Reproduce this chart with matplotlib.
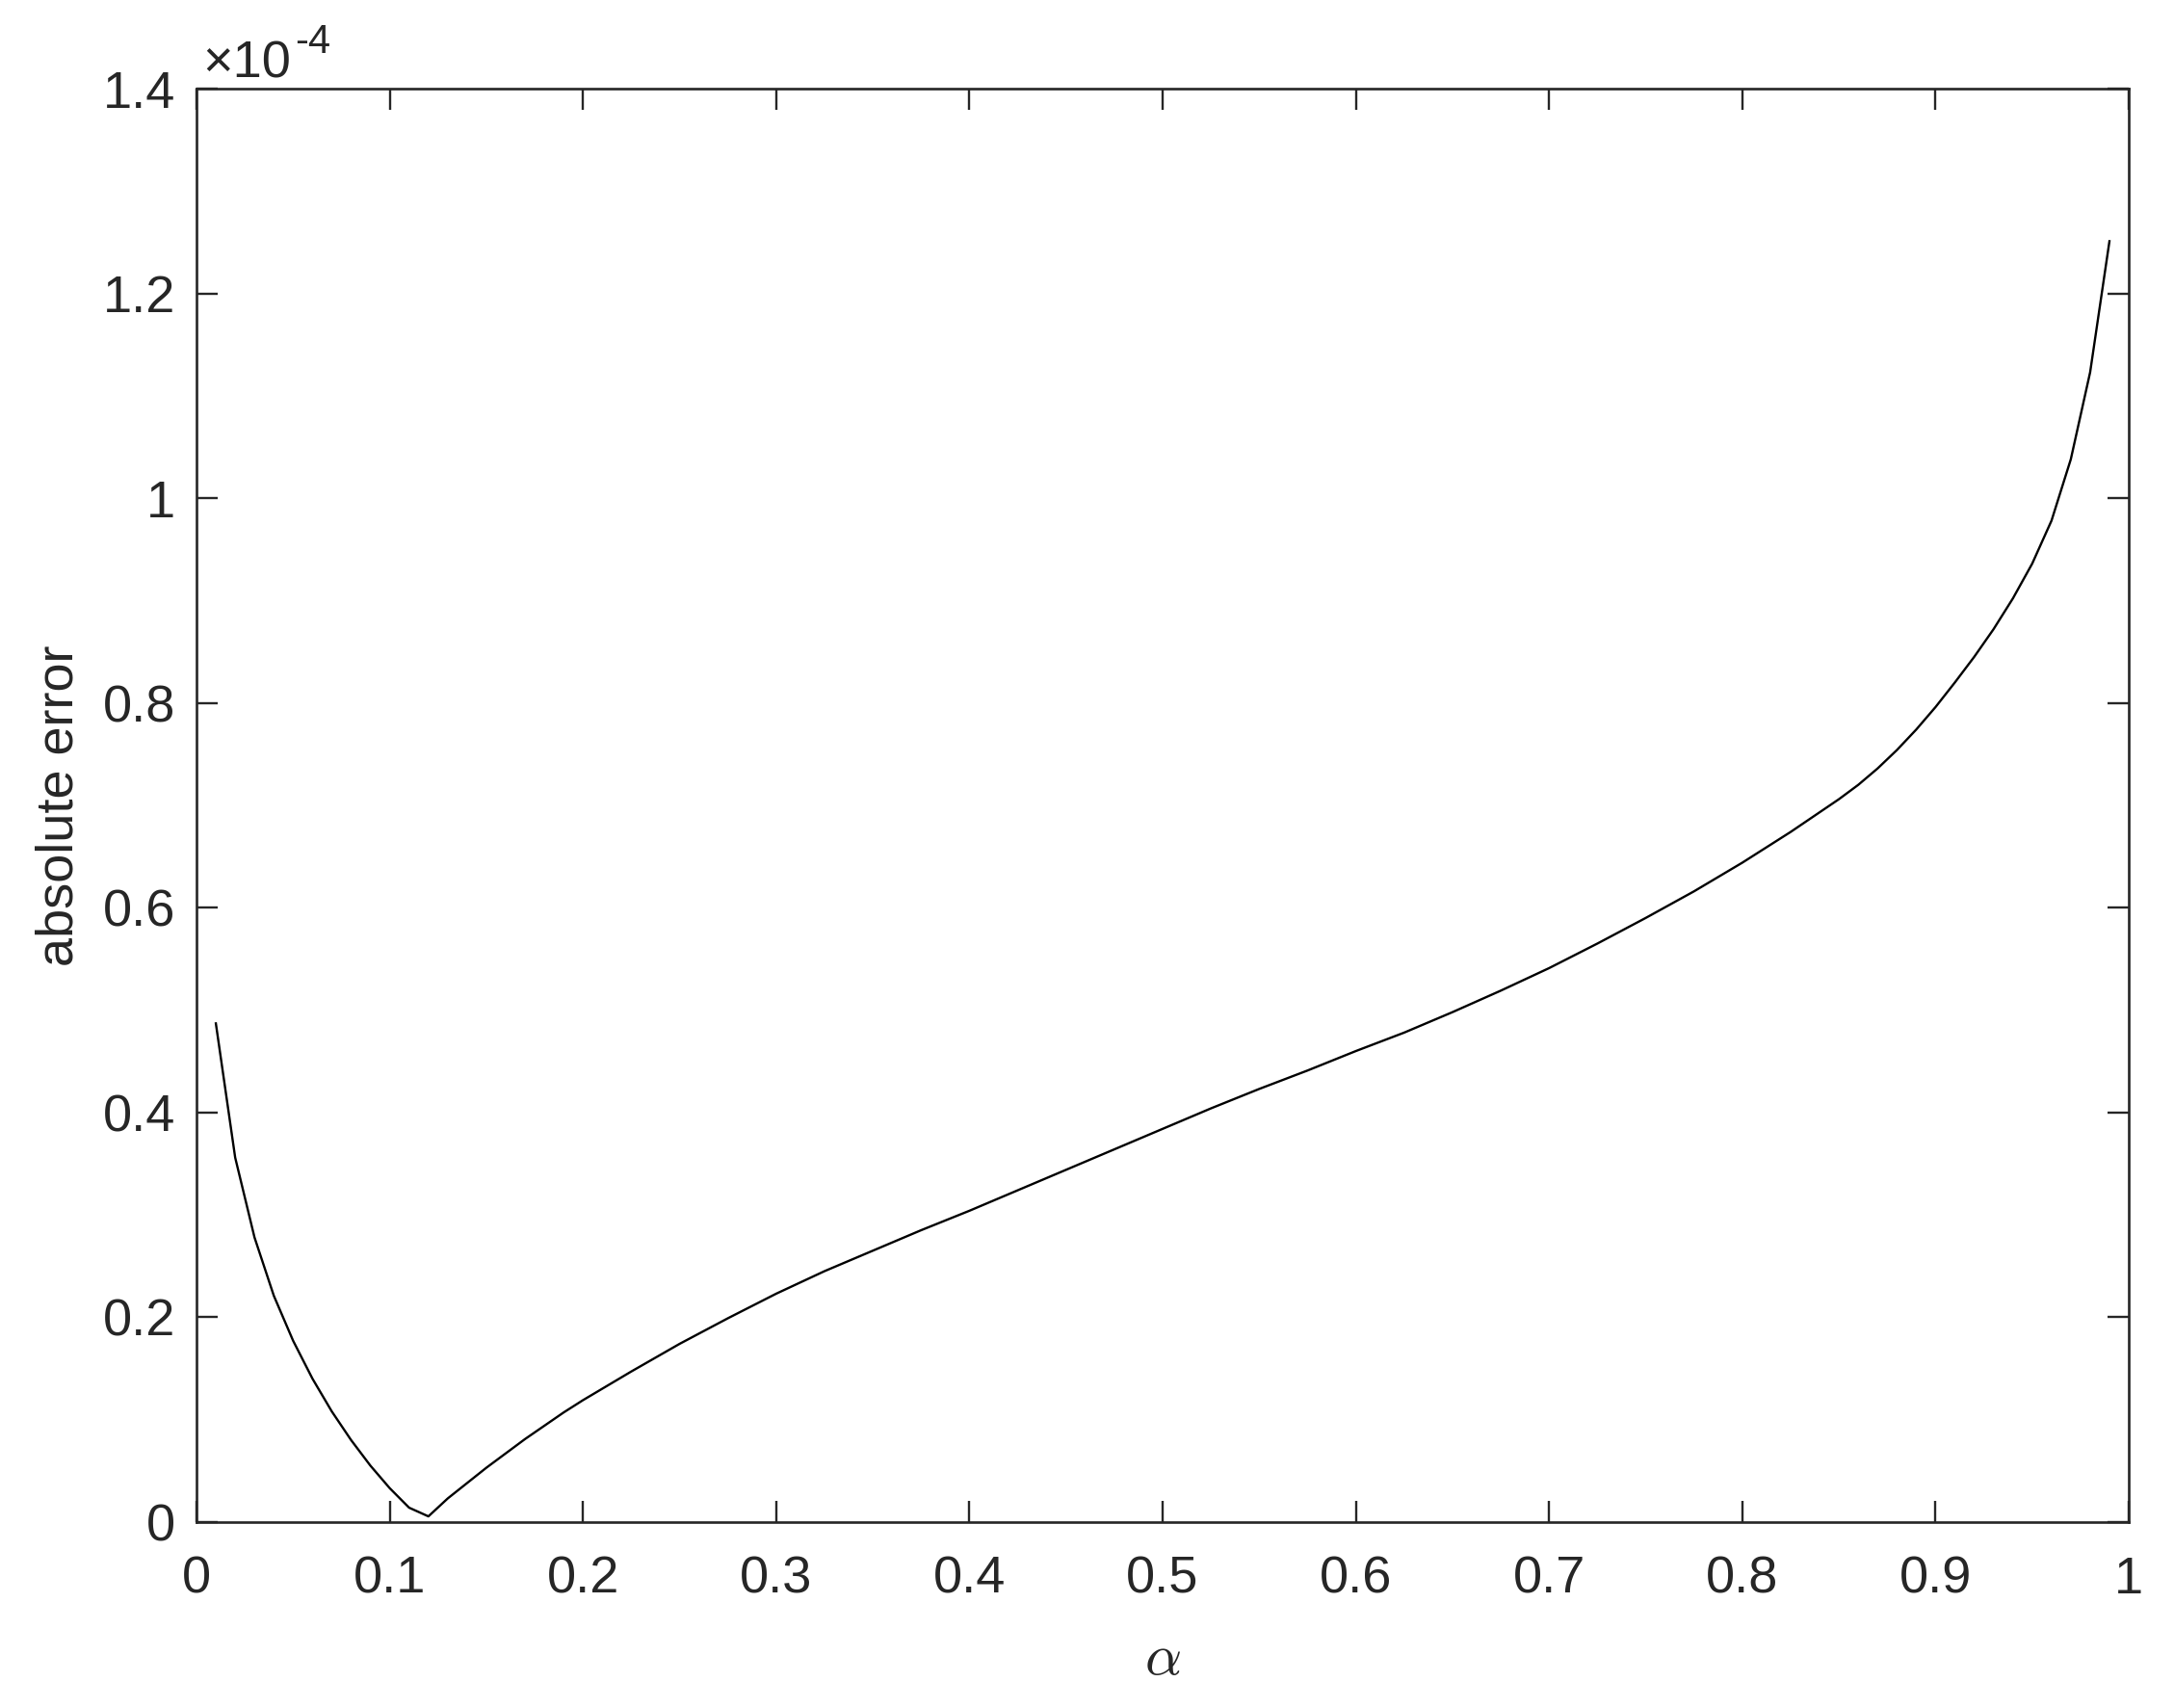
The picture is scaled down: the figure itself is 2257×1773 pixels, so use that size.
import matplotlib
matplotlib.use("Agg")
import matplotlib.pyplot as plt
from matplotlib.ticker import FuncFormatter, MultipleLocator
import numpy as np

# alpha values (fine steps near the ends where the curve bends)
alpha = [0.01, 0.02, 0.03, 0.04, 0.05, 0.06, 0.07, 0.08, 0.09, 0.10,
         0.11, 0.12, 0.13, 0.14, 0.15, 0.16, 0.17, 0.18, 0.19, 0.20,
         0.225, 0.25, 0.275, 0.30, 0.325, 0.35, 0.375, 0.40, 0.425, 0.45,
         0.475, 0.50, 0.525, 0.55, 0.575, 0.60, 0.625, 0.65, 0.675, 0.70,
         0.725, 0.75, 0.775, 0.80, 0.825, 0.85, 0.86, 0.87, 0.88, 0.89,
         0.90, 0.91, 0.92, 0.93, 0.94, 0.95, 0.96, 0.97, 0.98, 0.99]
# absolute error, in units of 1e-4
err = [0.487, 0.356, 0.278, 0.221, 0.177, 0.140, 0.108, 0.080, 0.055, 0.033,
       0.014, 0.0055, 0.023, 0.038, 0.053, 0.067, 0.081, 0.094, 0.107, 0.119,
       0.147, 0.174, 0.199, 0.223, 0.245, 0.265, 0.285, 0.304, 0.324, 0.344,
       0.364, 0.384, 0.404, 0.423, 0.441, 0.460, 0.478, 0.498, 0.519, 0.541,
       0.565, 0.590, 0.616, 0.644, 0.674, 0.706, 0.720, 0.736, 0.754, 0.774,
       0.796, 0.820, 0.845, 0.872, 0.902, 0.936, 0.978, 1.038, 1.123, 1.251]
scale = 1e-4

axis_col = "#262626"
fs = 39
plt.rcParams["font.family"] = ["Liberation Sans", "DejaVu Sans"]

fig = plt.figure(figsize=(22.57, 17.73), dpi=100)
ax = fig.add_axes([0.0904, 0.1089, 0.8888, 0.8392])

ax.plot(np.array(alpha), np.array(err) * scale, color="black", lw=1.7)

ax.set_xlim(0, 1)
ax.set_ylim(0, 1.4e-4)
ax.xaxis.set_major_locator(MultipleLocator(0.1))
ax.yaxis.set_major_locator(MultipleLocator(0.2e-4))
ax.xaxis.set_major_formatter(FuncFormatter(lambda v, p: "%g" % round(v, 2)))
ax.yaxis.set_major_formatter(FuncFormatter(lambda v, p: "%g" % round(v / scale, 2)))

for s in ax.spines.values():
    s.set_color(axis_col)
    s.set_linewidth(1.9)
ax.tick_params(direction="in", length=15.5, width=1.7, colors=axis_col,
               labelsize=fs, top=True, right=True)
ax.tick_params(axis="x", pad=25)
ax.tick_params(axis="y", pad=16)
for lab in ax.get_xticklabels() + ax.get_yticklabels():
    lab.set_color(axis_col)

ax.set_ylabel("absolute error", fontsize=fs, color=axis_col, labelpad=14)
ax.set_xlabel(r"$\alpha$", fontsize=43, color=axis_col, labelpad=22,
              math_fontfamily="cm")

# MATLAB style exponent above the y axis
t1 = ax.text(0.003, 1.008, "\u00d710", transform=ax.transAxes,
             fontsize=fs, color=axis_col, ha="left", va="baseline")
ax.annotate("-4", xy=(1, 0), xycoords=t1, xytext=(3, 26),
            textcoords="offset points", fontsize=30, color=axis_col,
            ha="left", va="baseline")

fig.savefig("out.png", dpi=100)
